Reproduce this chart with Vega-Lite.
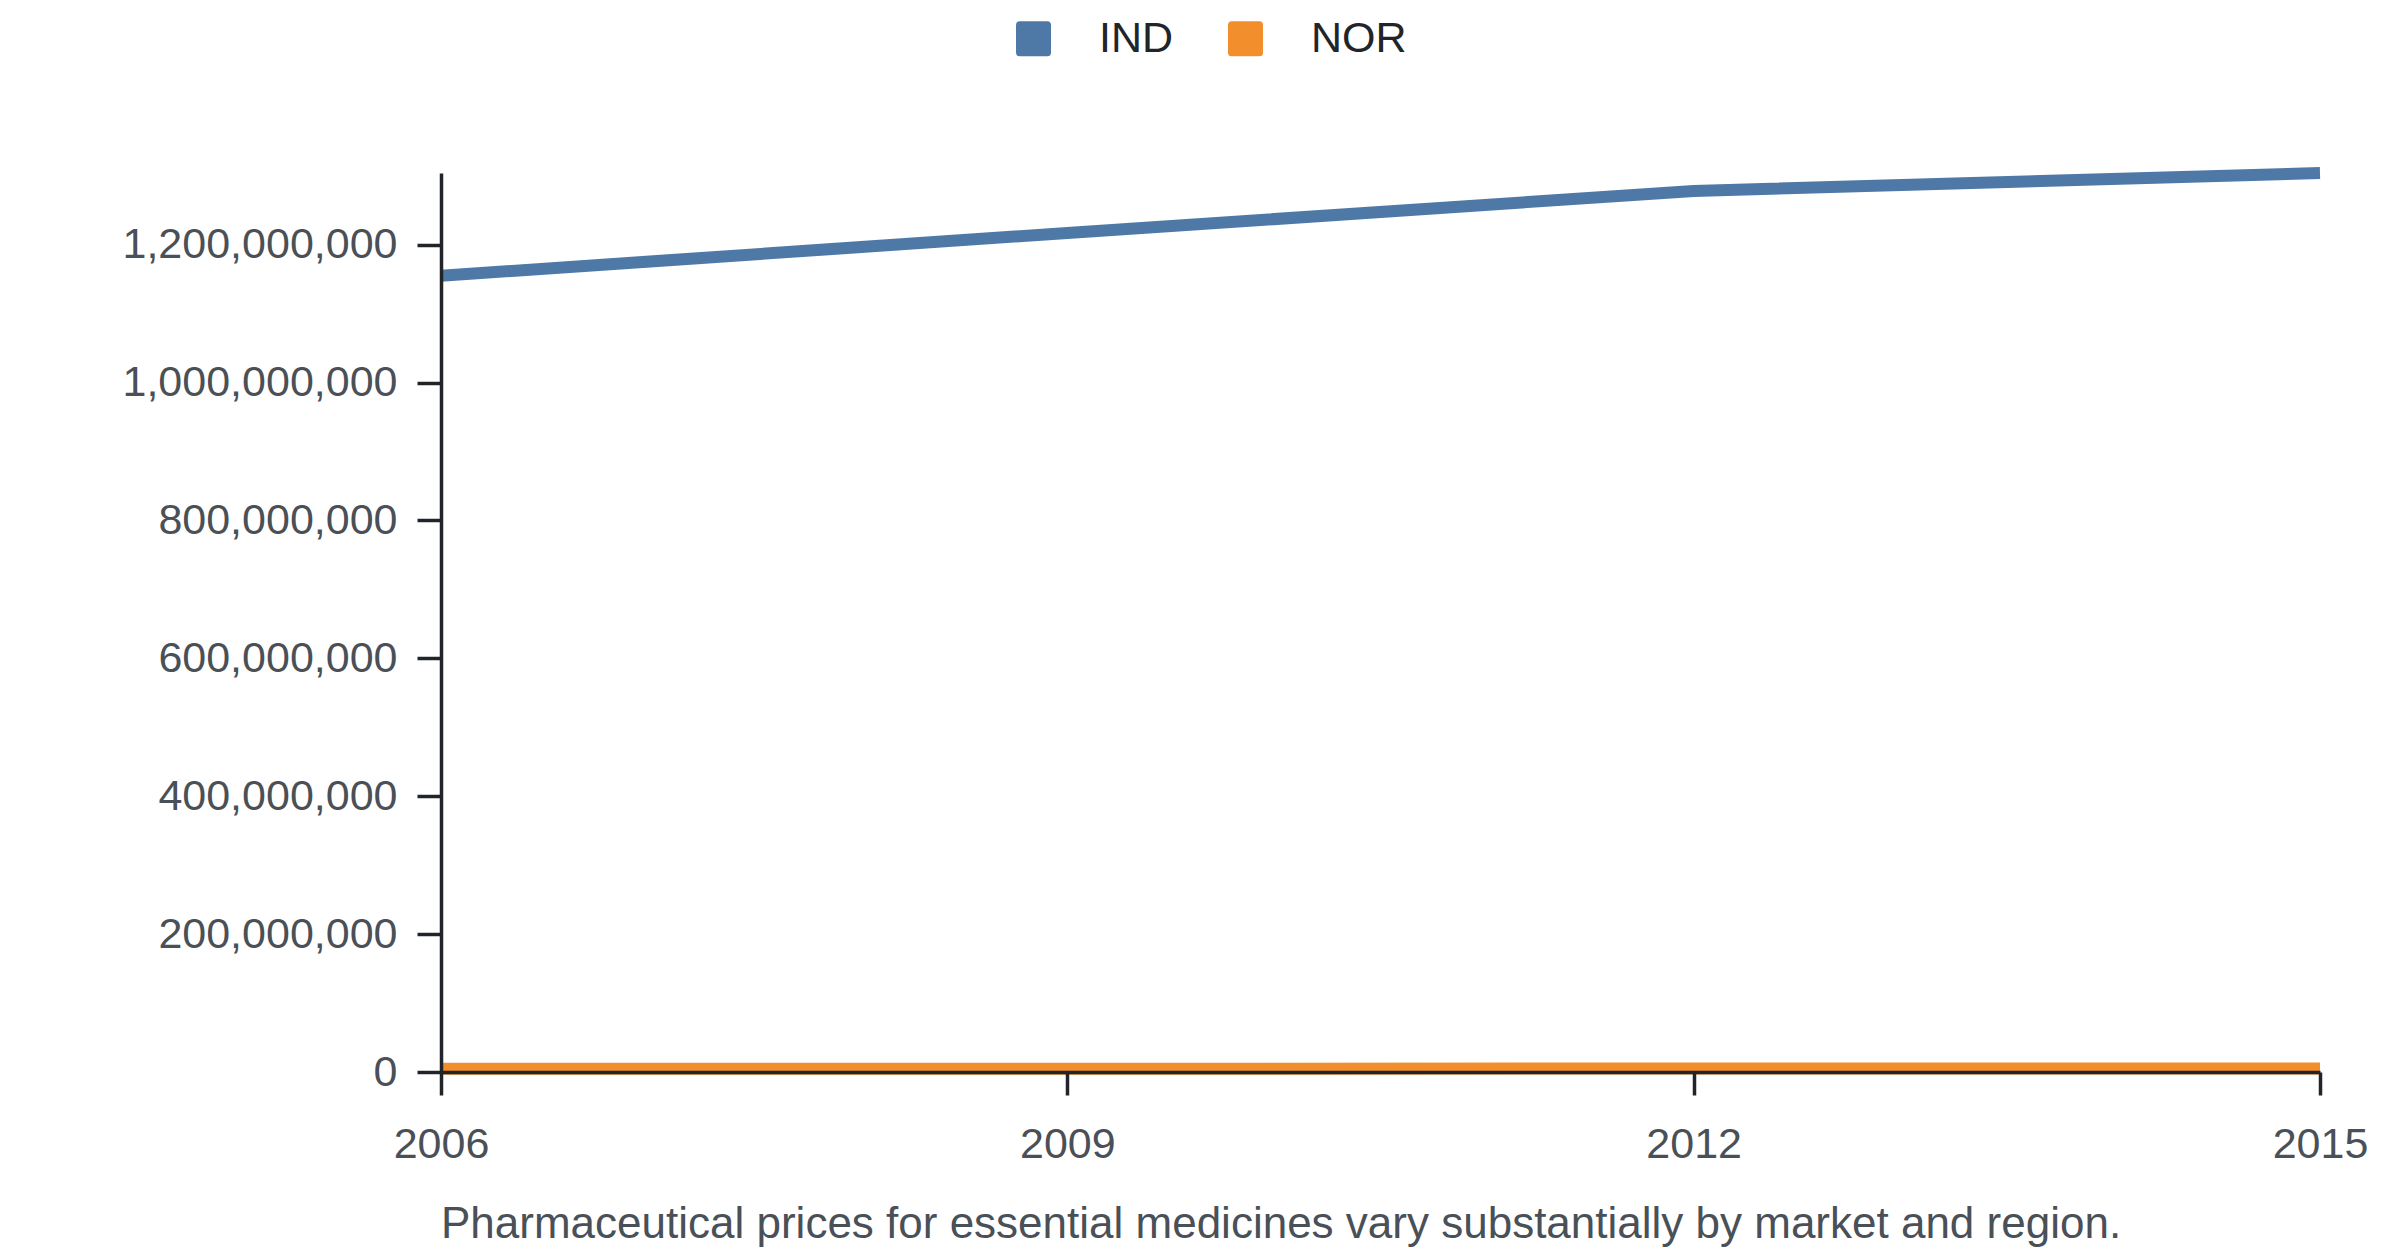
{
  "$schema": "https://vega.github.io/schema/vega-lite/v6.json",
  "autosize": {"type": "none"},
  "width": 1879,
  "height": 899,
  "padding": {"left": 441, "top": 173, "right": 80, "bottom": 184},
  "background": "white",
  "config": {
    "view": {"stroke": null},
    "font": "Liberation Sans"
  },
  "title": {
    "text": "Pharmaceutical prices for essential medicines vary substantially by market and region.",
    "orient": "bottom",
    "anchor": "start",
    "frame": "group",
    "fontSize": 44,
    "fontWeight": "normal",
    "color": "#495057",
    "offset": 37
  },
  "data": {
    "values": [
      {"country": "IND", "year": 2006, "value": 1155000000},
      {"country": "IND", "year": 2009, "value": 1217000000},
      {"country": "IND", "year": 2012, "value": 1278000000},
      {"country": "IND", "year": 2015, "value": 1304000000},
      {"country": "NOR", "year": 2006, "value": 4660000},
      {"country": "NOR", "year": 2009, "value": 4830000},
      {"country": "NOR", "year": 2012, "value": 5020000},
      {"country": "NOR", "year": 2015, "value": 5190000}
    ]
  },
  "mark": {"type": "line", "strokeWidth": 12},
  "encoding": {
    "x": {
      "field": "year",
      "type": "quantitative",
      "scale": {"domain": [2006, 2015], "nice": false, "zero": false},
      "axis": {
        "title": null,
        "values": [2006, 2009, 2012, 2015],
        "format": "d",
        "grid": false,
        "zindex": 1,
        "domainColor": "#212529",
        "domainWidth": 3.5,
        "tickColor": "#212529",
        "tickWidth": 3.5,
        "tickSize": 23,
        "labelFontSize": 43,
        "labelColor": "#495057",
        "labelPadding": 28,
        "labelFlush": false
      }
    },
    "y": {
      "field": "value",
      "type": "quantitative",
      "scale": {"nice": false, "zero": true},
      "axis": {
        "title": null,
        "values": [0, 200000000, 400000000, 600000000, 800000000, 1000000000, 1200000000],
        "format": ",d",
        "grid": false,
        "zindex": 1,
        "domainColor": "#212529",
        "domainWidth": 3.5,
        "tickColor": "#212529",
        "tickWidth": 3.5,
        "tickSize": 24,
        "labelFontSize": 43,
        "labelColor": "#495057",
        "labelPadding": 20,
        "labelLimit": 0
      }
    },
    "color": {
      "field": "country",
      "type": "nominal",
      "scale": {"domain": ["IND", "NOR"], "range": ["#4e79a7", "#f28e2b"]},
      "legend": {
        "title": null,
        "orient": "none",
        "direction": "horizontal",
        "legendX": 571,
        "legendY": -156,
        "symbolType": "M -0.78,-1 L 0.78,-1 Q 1,-1 1,-0.78 L 1,0.78 Q 1,1 0.78,1 L -0.78,1 Q -1,1 -1,0.78 L -1,-0.78 Q -1,-1 -0.78,-1 Z",
        "symbolSize": 1225,
        "symbolStrokeWidth": 0,
        "labelFontSize": 43,
        "labelColor": "#212529",
        "labelOffset": 44,
        "columnPadding": 50,
        "encode": {
          "symbols": {
            "update": {
              "fill": {"scale": "color", "field": "value"},
              "fillOpacity": {"value": 1},
              "strokeWidth": {"value": 0}
            }
          }
        }
      }
    }
  }
}
